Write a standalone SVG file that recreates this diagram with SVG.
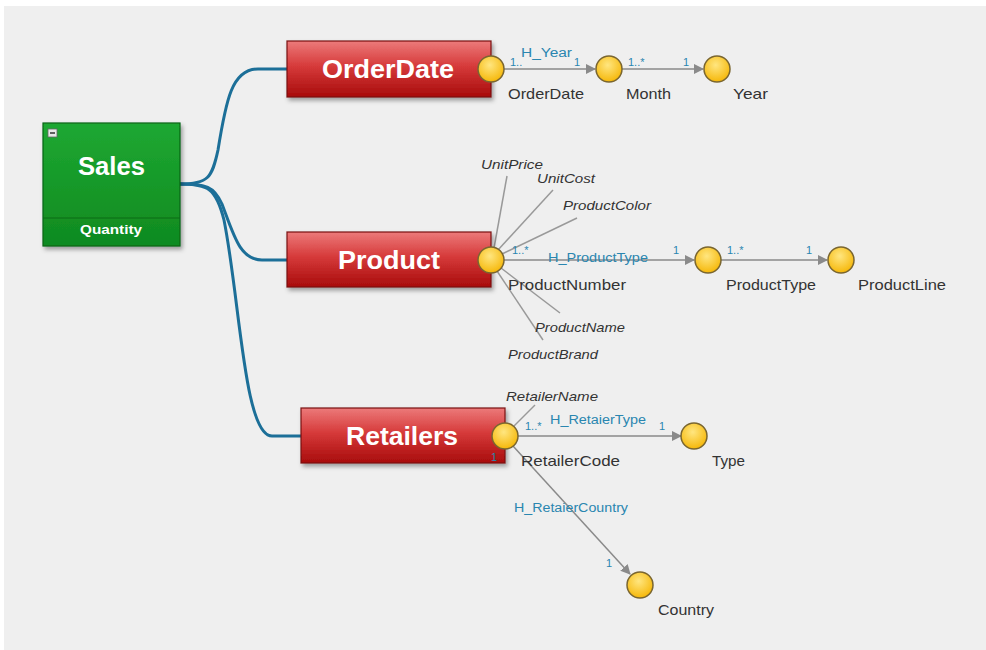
<svg xmlns="http://www.w3.org/2000/svg" width="986" height="650" viewBox="0 0 986 650">
<defs>
<linearGradient id="red" x1="0" y1="0" x2="0" y2="1">
<stop offset="0" stop-color="#ec7a7a"/><stop offset="0.45" stop-color="#d63a3a"/><stop offset="1" stop-color="#a80c0c"/>
</linearGradient>
<linearGradient id="green" x1="0" y1="0" x2="0" y2="1">
<stop offset="0" stop-color="#1ea832"/><stop offset="1" stop-color="#0f8a20"/>
</linearGradient>
<radialGradient id="yel" cx="0.45" cy="0.35" r="0.7">
<stop offset="0" stop-color="#ffe680"/><stop offset="1" stop-color="#f5b400"/>
</radialGradient>
<filter id="sh" x="-10%" y="-10%" width="130%" height="140%">
<feDropShadow dx="2" dy="3" stdDeviation="2" flood-color="#000" flood-opacity="0.35"/>
</filter>
<marker id="arr" viewBox="0 0 10 10" refX="9" refY="5" markerWidth="10" markerHeight="10" markerUnits="userSpaceOnUse" orient="auto">
<path d="M0,0 L10,5 L0,10 z" fill="#8a8a8a"/>
</marker>
<style>
.blue{fill:none;stroke:#1c6f98;stroke-width:3}
.gl{fill:none;stroke:#999;stroke-width:1.5}
.ga{fill:none;stroke:#8a8a8a;stroke-width:1.5;marker-end:url(#arr)}
.dot{fill:url(#yel);stroke:#7a6630;stroke-width:1.5}
.rbox{fill:url(#red);stroke:#7a1010;stroke-width:1.2;filter:url(#sh)}
.rt{font-family:"Liberation Sans",Arial,sans-serif;font-weight:bold;font-size:26px;fill:#fff}
.lb{font-family:"Liberation Sans",Arial,sans-serif;font-size:15px;fill:#333}
.it{font-family:"Liberation Sans",Arial,sans-serif;font-size:13.5px;font-style:italic;fill:#333}
.bl{font-family:"Liberation Sans",Arial,sans-serif;font-size:12.5px;fill:#2a86b0}
.bs{font-family:"Liberation Sans",Arial,sans-serif;font-size:11px;fill:#2a86b0}
</style>
</defs>
<rect x="0" y="0" width="986" height="650" fill="#fff"/>
<rect x="4" y="6" width="982" height="644" fill="#efefef"/>

<g id="connectors">
<path class="blue" d="M180,184 C208,184 212,178 218,150 C226,100 232,69 258,69 L287,69"/>
<path class="blue" d="M180,184 C206,184 214,186 222,204 C234,236 240,260 262,260 L287,260"/>
<path class="blue" d="M180,184 C208,184 216,188 224,220 C240,300 244,436 272,436 L301,436"/>
<path class="ga" d="M504,69 L595,69"/>
<path class="ga" d="M622,69 L703,69"/>
<line class="gl" x1="494" y1="248" x2="507" y2="176"/>
<line class="gl" x1="498" y1="250" x2="553" y2="190"/>
<line class="gl" x1="502" y1="254" x2="577" y2="218"/>
<line class="gl" x1="501" y1="268" x2="560" y2="313"/>
<line class="gl" x1="497" y1="271" x2="543" y2="340"/>
<path class="ga" d="M504,260 L694,260"/>
<path class="ga" d="M721,260 L827,260"/>
<line class="gl" x1="514" y1="426" x2="535" y2="405"/>
<path class="ga" d="M518,436 L681,436"/>
<path class="ga" d="M513,446 L630,574"/>
</g>

<g id="sales">
<rect x="43" y="123" width="137" height="123" fill="url(#green)" stroke="#0b6414" stroke-width="1.2" filter="url(#sh)"/>
<line x1="43" y1="218" x2="180" y2="218" stroke="#0a6a16" stroke-width="1"/>
<rect x="48" y="129" width="9" height="8" fill="#e8e8e8" stroke="#666" stroke-width="0.8"/>
<line x1="50" y1="133" x2="55" y2="133" stroke="#333" stroke-width="1.5"/>
<text class="rt" x="78" y="175" textLength="67" lengthAdjust="spacingAndGlyphs">Sales</text>
<text x="80" y="234" font-family="Liberation Sans,Arial,sans-serif" font-weight="bold" font-size="13" fill="#fff" textLength="62" lengthAdjust="spacingAndGlyphs">Quantity</text>
</g>

<g id="orderdate">
<rect class="rbox" x="287" y="41" width="204" height="56"/>
<text class="rt" x="322" y="78" textLength="132" lengthAdjust="spacingAndGlyphs">OrderDate</text>
<circle class="dot" cx="491" cy="69" r="13"/>
<text class="lb" x="508" y="99" textLength="76" lengthAdjust="spacingAndGlyphs">OrderDate</text>
</g>
<g id="month">
<circle class="dot" cx="609" cy="69" r="13"/>
<text class="lb" x="626" y="99" textLength="45" lengthAdjust="spacingAndGlyphs">Month</text>
</g>
<g id="year">
<circle class="dot" cx="717" cy="69" r="13"/>
<text class="lb" x="733" y="99" textLength="35" lengthAdjust="spacingAndGlyphs">Year</text>
</g>

<g id="product">
<rect class="rbox" x="287" y="232" width="204" height="55"/>
<text class="rt" x="338" y="269" textLength="102" lengthAdjust="spacingAndGlyphs">Product</text>
<circle class="dot" cx="491" cy="260" r="13"/>
<text class="lb" x="508" y="290" textLength="118" lengthAdjust="spacingAndGlyphs">ProductNumber</text>
<text class="it" x="481" y="169" textLength="62" lengthAdjust="spacingAndGlyphs">UnitPrice</text>
<text class="it" x="537" y="183" textLength="58" lengthAdjust="spacingAndGlyphs">UnitCost</text>
<text class="it" x="563" y="210" textLength="88" lengthAdjust="spacingAndGlyphs">ProductColor</text>
<text class="it" x="535" y="332" textLength="90" lengthAdjust="spacingAndGlyphs">ProductName</text>
<text class="it" x="508" y="359" textLength="90" lengthAdjust="spacingAndGlyphs">ProductBrand</text>
</g>
<g id="producttype">
<circle class="dot" cx="708" cy="260" r="13"/>
<text class="lb" x="726" y="290" textLength="90" lengthAdjust="spacingAndGlyphs">ProductType</text>
</g>
<g id="productline">
<circle class="dot" cx="841" cy="260" r="13"/>
<text class="lb" x="858" y="290" textLength="88" lengthAdjust="spacingAndGlyphs">ProductLine</text>
</g>

<g id="retailers">
<rect class="rbox" x="301" y="408" width="204" height="55"/>
<text class="rt" x="346" y="445" textLength="112" lengthAdjust="spacingAndGlyphs">Retailers</text>
<circle class="dot" cx="505" cy="436" r="13"/>
<text class="lb" x="521" y="466" textLength="99" lengthAdjust="spacingAndGlyphs">RetailerCode</text>
<text class="it" x="506" y="401" textLength="92" lengthAdjust="spacingAndGlyphs">RetailerName</text>
</g>
<g id="type">
<circle class="dot" cx="694" cy="436" r="13"/>
<text class="lb" x="712" y="466" textLength="33" lengthAdjust="spacingAndGlyphs">Type</text>
</g>
<g id="country">
<circle class="dot" cx="640" cy="585" r="13"/>
<text class="lb" x="658" y="615" textLength="56" lengthAdjust="spacingAndGlyphs">Country</text>
</g>

<g id="labels">
<text class="bs" x="510" y="66">1..</text>
<text class="bl" x="521" y="57" textLength="51" lengthAdjust="spacingAndGlyphs">H_Year</text>
<text class="bs" x="574" y="66">1</text>
<text class="bs" x="628" y="66">1..*</text>
<text class="bs" x="683" y="66">1</text>
<text class="bs" x="512" y="254">1..*</text>
<text class="bl" x="548" y="262" textLength="100" lengthAdjust="spacingAndGlyphs">H_ProductType</text>
<text class="bs" x="673" y="254">1</text>
<text class="bs" x="727" y="254">1..*</text>
<text class="bs" x="806" y="254">1</text>
<text class="bs" x="525" y="430">1..*</text>
<text class="bl" x="550" y="424" textLength="96" lengthAdjust="spacingAndGlyphs">H_RetaierType</text>
<text class="bs" x="659" y="430">1</text>
<text class="bs" x="491" y="461">1</text>
<text class="bl" x="514" y="512" textLength="114" lengthAdjust="spacingAndGlyphs">H_RetaierCountry</text>
<text class="bs" x="606" y="567">1</text>
</g>
</svg>
